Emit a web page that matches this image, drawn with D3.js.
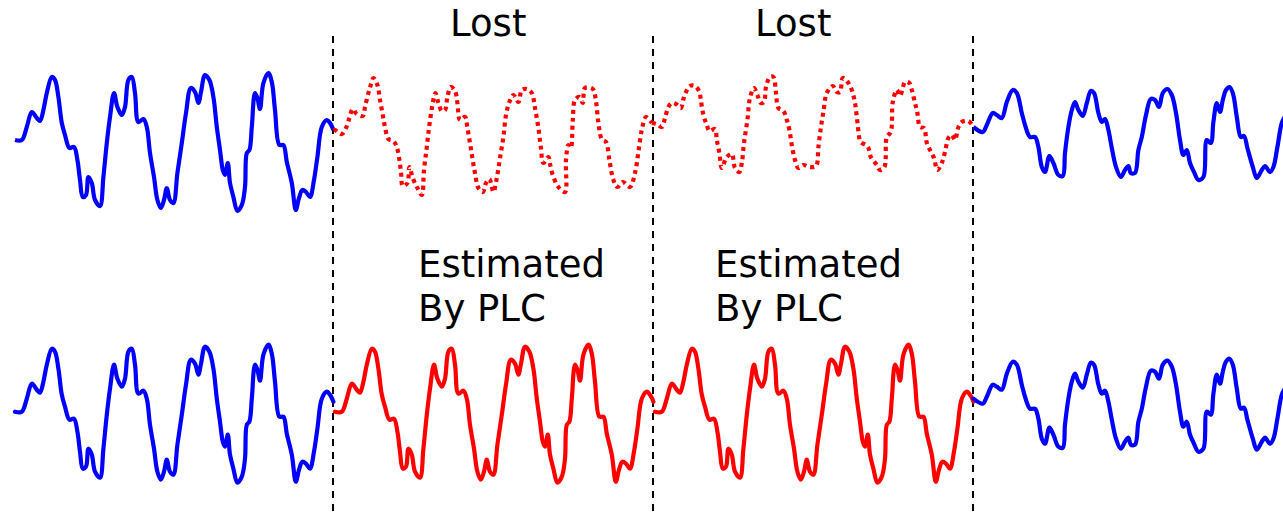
<!DOCTYPE html>
<html>
<head>
<meta charset="utf-8">
<script src="https://cdn.jsdelivr.net/npm/d3@7"></script>
<style>
  body { margin: 0; background: #fff; }
  .label { font-family: "DejaVu Sans", sans-serif; font-size: 37px; fill: #000; }
</style>
</head>
<body>
<div id="chart"></div>
<script>
// samples at 8 kHz, one frame = 160 samples (20 ms)
let frameLen = 160
let frameBounds = [160, 320, 480]

// frame 0 (received) : [sample, amplitude]
let frame0 = [[1,0],[4.4,0],[6.9,13],[9.4,28],[11.9,22],[13.5,19],[15.2,30],[16.9,47],[19.4,63],[21,60],[22.7,43],[24.4,17],[26,5],[28.2,-8],[30.5,-7],[32.2,-20],[33.5,-40],[34.9,-57],[36.5,-55],[37.7,-37],[39.4,-43],[41,-60],[43.5,-66],[45.2,-37],[46.9,-3],[48.5,23],[50.5,47],[52.2,33],[54.4,25],[56,33],[57.7,60],[59.4,63],[61,47],[62.7,18],[65.2,21],[66.9,13],[68.5,-13],[70.5,-37],[72.2,-60],[73.9,-68],[75.5,-60],[76.9,-48],[78.5,-60],[80.2,-63],[82.2,-33],[84.4,-3],[86.5,27],[88.9,52],[91,48],[92.7,37],[94,48],[96,65],[98.2,60],[100.2,43],[101.9,13],[103.5,-10],[104.9,-30],[106,-35],[107.4,-23],[108.5,-43],[110.2,-57],[112.2,-71],[114.4,-65],[116,-47],[116.9,-13],[118.2,-10],[119.4,13],[121,47],[122.2,42],[123.5,31],[125.2,57],[127.7,67],[129.4,58],[131,30],[133.2,-5],[135.2,-5],[136.9,-22],[139.4,-43],[141.4,-70],[143,-58],[144.7,-50],[146.5,-52],[148.5,-57],[150.5,-40],[152.2,-17],[154.4,13],[156.9,20],[158.5,17],[160.2,10]]

// frames 1 and 2 (original signal, lost in transmission)
let frame1 = [[160.2,10],[161,10],[164.4,6],[166.5,12],[168.2,22],[169.9,31],[171.9,26],[174.9,24],[176,33],[177.7,47],[178.9,55],[180.2,62],[182.2,55],[183.5,40],[184.9,25],[186,13],[187.7,1],[190.2,-1],[191.9,-7],[193.2,-20],[194,-32],[194.9,-46],[197.2,-43],[198.2,-27],[199.9,-38],[202.2,-48],[204.4,-55],[205.5,-30],[206.9,-7],[208.2,15],[209.9,37],[211.2,47],[212.7,37],[214.4,29],[216,30],[217.2,43],[218.9,53],[221,49],[222.2,37],[223.5,20],[226,23],[227.2,12],[228.5,-3],[229.7,-18],[231,-33],[232.7,-48],[234.9,-52],[236.5,-43],[238.2,-39],[240.2,-52],[241.9,-38],[243.5,-18],[245.2,3],[246.5,25],[248.2,38],[250.2,45],[252.7,38],[254.4,50],[256.9,51],[259.4,47],[261,32],[262.7,12],[263.9,-7],[265.2,-23],[267.7,-17],[268.5,-24],[269.9,-35],[272.7,-47],[276,-52],[276.5,-20],[277.7,-5],[278.9,-8],[279.9,20],[281,40],[283.2,43],[284.9,37],[286,52],[289.9,51],[291.4,40],[292.7,17],[294.4,1],[296.5,-2],[298.2,-20],[300.2,-40],[302.2,-47],[304.9,-42],[308.5,-47],[311,-33],[312.7,-12],[314.4,10],[316.5,23],[319.4,17]]

let frame2 = [[319.4,17],[321.9,16],[324.4,13],[326,22],[327.7,33],[329.4,37],[331.5,36],[333.9,32],[335.2,41],[336.5,48],[338.5,54],[341,54],[343.2,48],[343.9,40],[345.2,25],[346.9,15],[348.2,9],[351,11],[351.9,0],[353.2,-13],[354.4,-28],[356.9,-17],[359.4,-14],[361,-28],[363.2,-32],[364.4,-23],[365.5,-3],[367.2,20],[368.5,42],[370.5,52],[372.2,45],[373.9,37],[375.5,38],[376.5,53],[378.5,63],[380.2,63],[381.5,47],[382.7,32],[385.2,29],[386.9,20],[388.2,10],[389.4,-5],[391,-20],[392.7,-28],[395.2,-25],[398.2,-27],[401.5,-26],[402.7,-7],[403.9,12],[405.2,28],[406.9,47],[409.9,54],[411.9,48],[413.5,48],[414.9,62],[417.7,57],[419.4,50],[421,37],[422.2,18],[423.9,-2],[426.5,-5],[427.7,-8],[428.9,-17],[431.9,-25],[433.5,-30],[435.7,-27],[436.9,3],[438.9,8],[439.9,38],[441.9,50],[443.5,44],[444.9,52],[446,58],[448.2,57],[449.4,50],[451,37],[452.2,27],[453.5,13],[455.5,12],[456.9,-3],[458.5,-10],[460.5,-18],[462.2,-30],[464.4,-23],[466,-12],[467.7,2],[469.4,5],[471,0],[472.7,13],[474.4,18],[477.7,19],[480.2,13]]

// frame 3 (received)
let frame3 = [[480.2,13],[484.9,8],[486.9,15],[489.9,27],[491.9,25],[494.4,22],[496.9,38],[499.9,50],[501.9,47],[504.4,27],[506,15],[508.5,3],[511,3],[512.7,-7],[514.4,-27],[516,-32],[518.2,-16],[520.2,-23],[522.7,-35],[524.9,-36],[526,-13],[527.7,13],[529.4,30],[531,38],[532.7,30],[534.9,24],[536.9,37],[538.9,49],[540.5,47],[542.7,27],[544.4,18],[546,21],[547.7,10],[549.4,-8],[551.5,-27],[553.9,-37],[556,-30],[557.7,-26],[558.9,-33],[561,-33],[562.7,-10],[564.4,3],[566.5,25],[568.9,41],[571,40],[573,33],[574.9,47],[577.2,51],[579.4,45],[581.5,27],[583.5,0],[585.2,-15],[586.9,-10],[588.5,-23],[590.5,-32],[592.7,-40],[595.2,-37],[596.9,0],[598.9,-3],[600.2,18],[601.9,37],[603.5,28],[604.9,40],[606.5,50],[608.2,53],[609.9,47],[611.9,23],[613.9,3],[615.5,4],[617.2,-8],[619.9,-27],[621.9,-38],[624.4,-30],[626,-26],[628.5,-32],[630.2,-27],[632.2,-7],[634.4,17],[636.2,24]]

let topLabels = ['Lost', 'Lost']
let bottomLabels = [['Estimated', 'By PLC'], ['Estimated', 'By PLC']]

let width = 1283
let height = 516

let svg = d3.select('#chart')
    .append('svg')
    .attr('width', width)
    .attr('height', height)

let x = d3.scaleLinear()
    .domain([0, 640])
    .range([13, 1293])

let yTop = d3.scaleLinear()
    .domain([-80, 80])
    .range([220, 60])

let yBottom = d3.scaleLinear()
    .domain([-80, 80])
    .range([491.7, 331.7])

function lineFor(y) {
    return d3.line()
        .x(d => x(d[0]))
        .y(d => y(d[1]))
        .curve(d3.curveCatmullRom.alpha(0.5))
}

// PLC output: repeat the last good frame
function shiftFrame(data, k) {
    return data.map(d => [d[0] + k * frameLen, d[1]])
}

// frame boundaries
svg.selectAll('.bound')
    .data(frameBounds)
    .join('line')
    .attr('class', 'bound')
    .attr('x1', d => x(d))
    .attr('x2', d => x(d))
    .attr('y1', 36)
    .attr('y2', height)
    .attr('stroke', '#000')
    .attr('stroke-width', 2)
    .attr('stroke-dasharray', '7,6')

let topRow = [
    { data: frame0, color: '#0000ff', dash: null },
    { data: frame1, color: '#ff0000', dash: '4,4' },
    { data: frame2, color: '#ff0000', dash: '4,4' },
    { data: frame3, color: '#0000ff', dash: null },
]

let bottomRow = [
    { data: frame0, color: '#0000ff' },
    { data: shiftFrame(frame0, 1), color: '#ff0000' },
    { data: shiftFrame(frame0, 2), color: '#ff0000' },
    { data: frame3, color: '#0000ff' },
]

svg.append('g')
    .selectAll('path')
    .data(topRow)
    .join('path')
    .attr('d', d => lineFor(yTop)(d.data))
    .attr('fill', 'none')
    .attr('stroke', d => d.color)
    .attr('stroke-width', 4.2)
    .attr('stroke-dasharray', d => d.dash)
    .attr('stroke-linejoin', 'round')

svg.append('g')
    .selectAll('path')
    .data(bottomRow)
    .join('path')
    .attr('d', d => lineFor(yBottom)(d.data))
    .attr('fill', 'none')
    .attr('stroke', d => d.color)
    .attr('stroke-width', 4.2)
    .attr('stroke-linejoin', 'round')
    .attr('stroke-linecap', 'round')

// labels
let lostX = [450, 755]
let estX = [418, 715]

svg.selectAll('.lost')
    .data(topLabels)
    .join('text')
    .attr('class', 'label lost')
    .attr('x', (d, i) => lostX[i])
    .attr('y', 36)
    .text(d => d)

bottomLabels.forEach((lines, i) => {
    let t = svg.append('text')
        .attr('class', 'label')
        .attr('x', estX[i])
        .attr('y', 277)
    t.selectAll('tspan')
        .data(lines)
        .join('tspan')
        .attr('x', estX[i])
        .attr('dy', (d, j) => j === 0 ? 0 : 44)
        .text(d => d)
})
</script>
</body>
</html>
